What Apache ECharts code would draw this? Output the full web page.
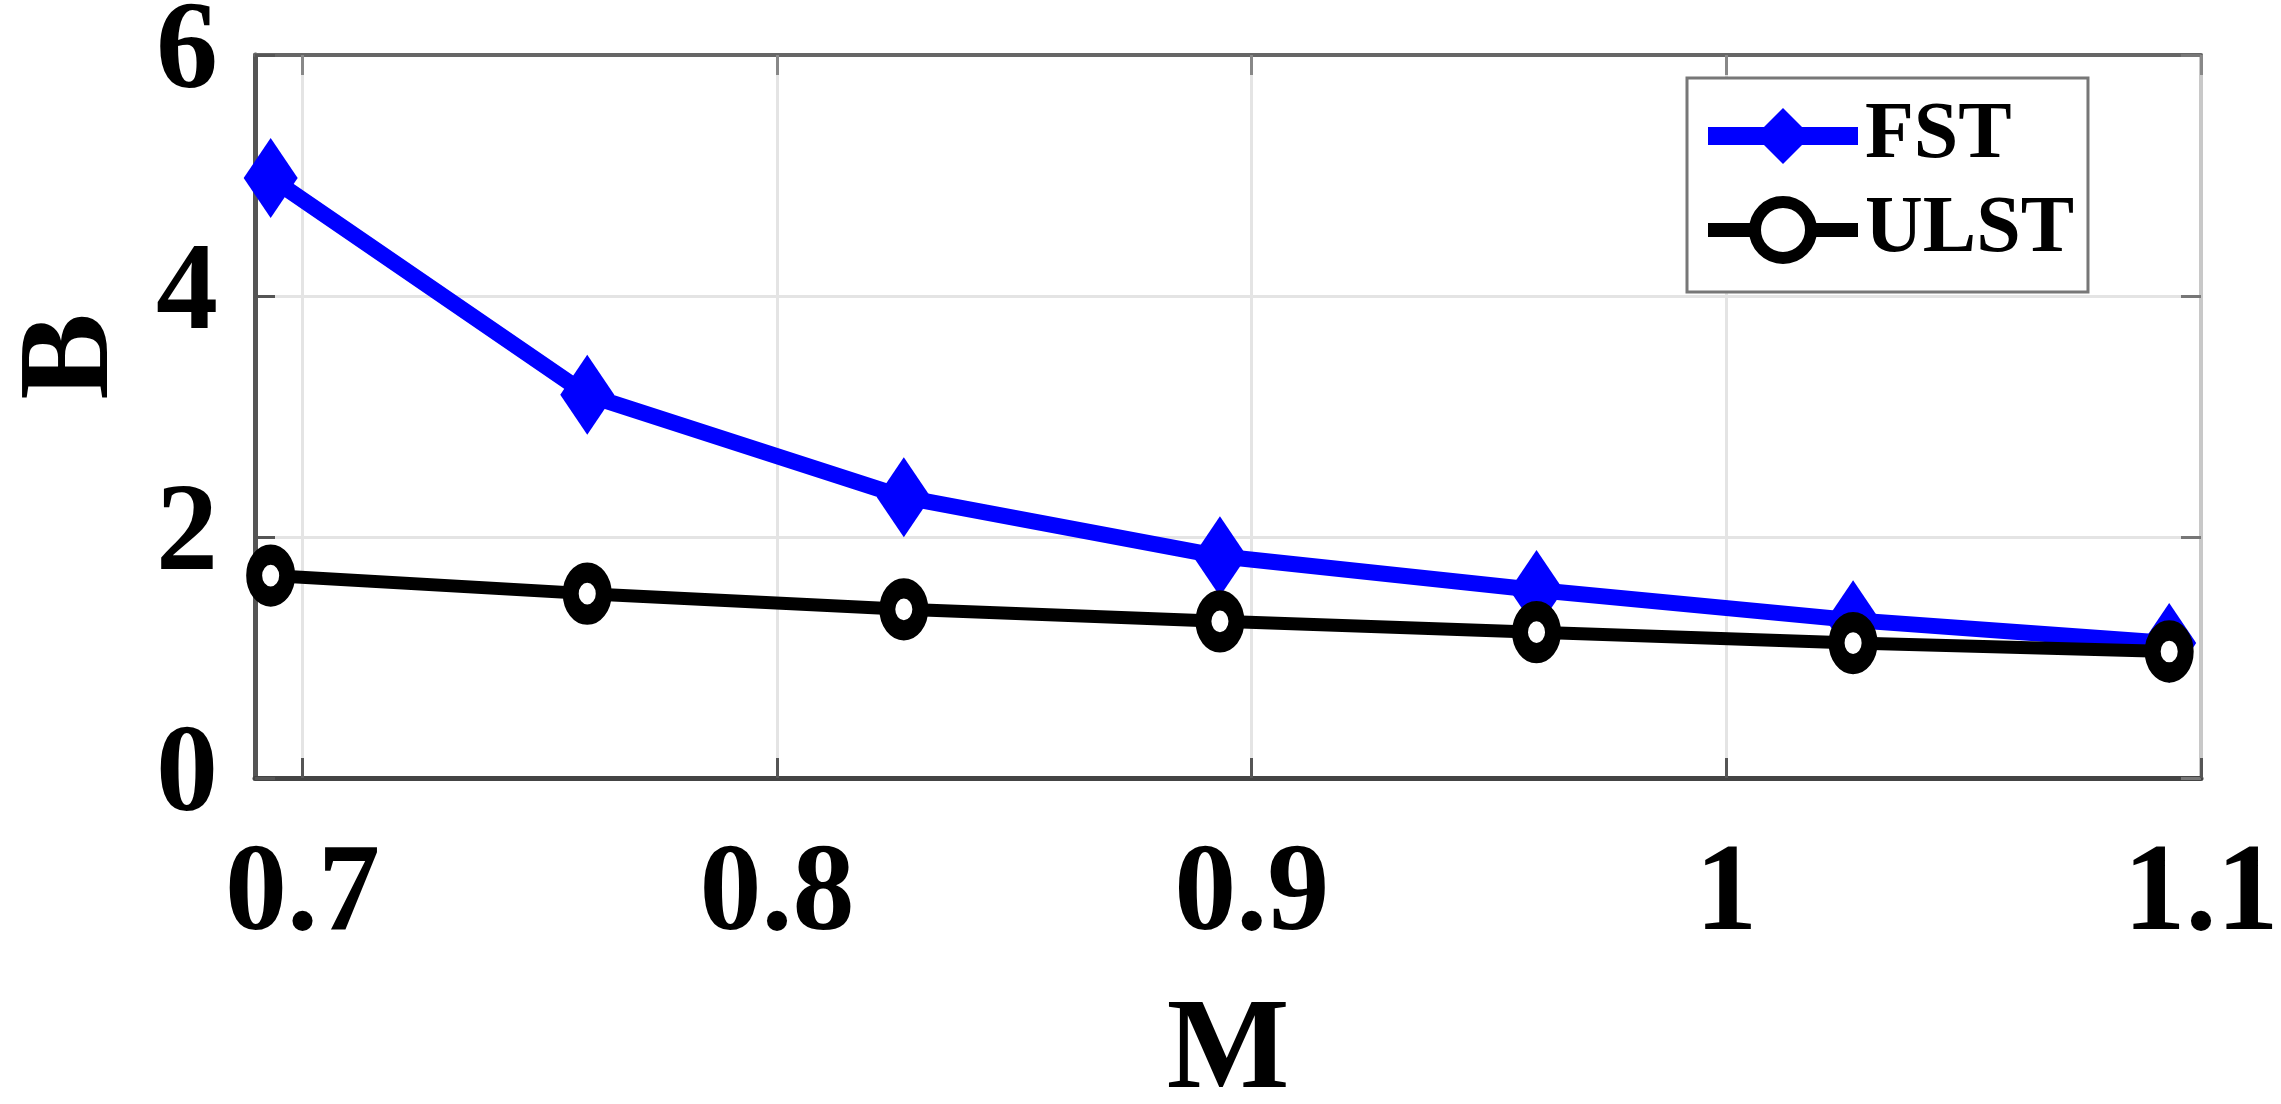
<!DOCTYPE html>
<html>
<head>
<meta charset="utf-8">
<script src="https://cdn.jsdelivr.net/npm/echarts@6/dist/echarts.min.js"></script>
<style>
  html, body { margin: 0; padding: 0; background: #fff; }
  #main { width: 2281px; height: 1104px; }
</style>
</head>
<body>
<div id="main"></div>
<script>
var mValues = [0.6933, 0.76, 0.8267, 0.8933, 0.96, 1.0267, 1.0933];
var fstValues = [4.98, 3.18, 2.33, 1.84, 1.56, 1.31, 1.12];
var ulstValues = [1.68, 1.53, 1.40, 1.30, 1.21, 1.12, 1.05];
var xTicks = [0.7, 0.8, 0.9, 1.0, 1.1];
var yTicks = [0, 2, 4, 6];

var font = "'Liberation Serif', 'Times New Roman', serif";

function pairs(xs, ys) {
  var out = [];
  for (var i = 0; i < xs.length; i++) {
    out.push([xs[i], ys[i]]);
  }
  return out;
}

var chart = echarts.init(document.getElementById('main'), null, { renderer: 'canvas' });

var option = {
  animation: false,
  backgroundColor: '#ffffff',
  grid: {
    left: 255,
    right: 80,
    top: 55,
    bottom: 326,
    outerBoundsMode: 'none',
    containLabel: false
  },
  legend: {
    orient: 'vertical',
    left: 1687,
    top: 78,
    padding: [18, 14, 22, 12],
    itemWidth: 150,
    itemHeight: 70,
    itemGap: 14,
    backgroundColor: '#ffffff',
    borderColor: '#777777',
    borderWidth: 3,
    textStyle: {
      fontFamily: font,
      fontWeight: 'bold',
      fontSize: 80,
      color: '#000',
      padding: [0, 0, 0, 2]
    },
    data: [
      { name: 'FST', lineStyle: { width: 18 } },
      { name: 'ULST', lineStyle: { width: 14 }, itemStyle: { borderWidth: 12 } }
    ]
  },
  xAxis: [{
    type: 'value',
    min: 0.69,
    max: 1.1,
    name: 'M',
    nameLocation: 'middle',
    nameGap: 210,
    nameTextStyle: {
      fontFamily: font,
      fontWeight: 'bold',
      fontSize: 130,
      color: '#000'
    },
    axisLine: { show: true, onZero: false, lineStyle: { color: '#444', width: 5 } },
    axisTick: { show: true, inside: true, length: 20, customValues: xTicks, lineStyle: { color: '#555', width: 3 } },
    axisLabel: {
      customValues: xTicks,
      margin: 57,
      fontFamily: font,
      fontWeight: 'bold',
      fontSize: 124,
      color: '#000',
      formatter: function (v) { return String(Math.round(v * 10) / 10); }
    },
    splitLine: { show: true, lineStyle: { color: '#e4e4e4', width: 3 } }
  }, {
    type: 'value',
    position: 'top',
    min: 0.69,
    max: 1.1,
    axisLine: { show: true, onZero: false, lineStyle: { color: '#666', width: 4 } },
    axisTick: { show: true, inside: true, length: 20, customValues: xTicks, lineStyle: { color: '#888', width: 3 } },
    axisLabel: { show: false },
    splitLine: { show: false }
  }],
  yAxis: [{
    type: 'value',
    min: 0,
    max: 6,
    interval: 2,
    name: 'B',
    nameLocation: 'middle',
    nameGap: 117,
    nameTextStyle: {
      fontFamily: font,
      fontWeight: 'bold',
      fontSize: 130,
      color: '#000',
      padding: [0, 0, 0, 120]
    },
    axisLine: { show: true, onZero: false, lineStyle: { color: '#555', width: 5 } },
    axisTick: { show: true, inside: true, length: 20, lineStyle: { color: '#555', width: 3 } },
    axisLabel: {
      margin: 37,
      fontFamily: font,
      fontWeight: 'bold',
      fontSize: 124,
      color: '#000'
    },
    splitLine: { show: true, lineStyle: { color: '#e4e4e4', width: 3 } }
  }, {
    type: 'value',
    position: 'right',
    min: 0,
    max: 6,
    interval: 2,
    axisLine: { show: true, onZero: false, lineStyle: { color: '#c8c8c8', width: 4 } },
    axisTick: { show: true, inside: true, length: 20, lineStyle: { color: '#777', width: 3 } },
    axisLabel: { show: false },
    splitLine: { show: false }
  }],
  series: [{
    name: 'FST',
    type: 'line',
    data: pairs(mValues, fstValues),
    symbol: 'diamond',
    symbolSize: [54, 80],
    lineStyle: { color: '#0000ff', width: 16 },
    itemStyle: { color: '#0000ff' },
    z: 3
  }, {
    name: 'ULST',
    type: 'line',
    data: pairs(mValues, ulstValues),
    symbol: 'circle',
    symbolSize: [33, 42],
    lineStyle: { color: '#000000', width: 13 },
    itemStyle: { color: '#ffffff', borderColor: '#000000', borderWidth: 18 },
    z: 4
  }]
};

chart.setOption(option);
</script>
</body>
</html>
